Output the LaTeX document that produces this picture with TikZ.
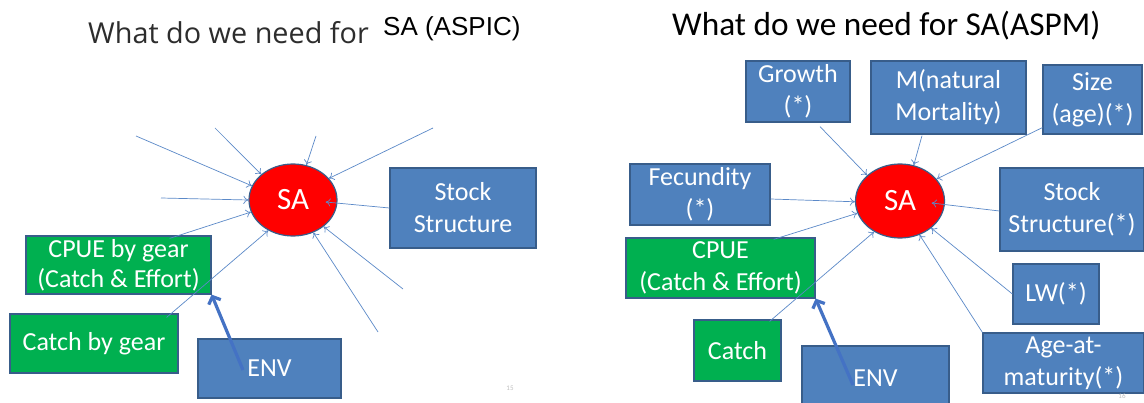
\documentclass[tikz,border=0pt]{standalone}
\usepackage{fontspec}
\setmainfont{Carlito}
\newfontfamily\arialfont{Liberation Sans}
\newfontfamily\segoefont{Open Sans}
\usepackage{tikz}
\usetikzlibrary{shapes.geometric,arrows.meta}
\definecolor{boxblue}{RGB}{79,129,189}
\definecolor{boxedge}{RGB}{56,93,138}
\definecolor{boxgreen}{RGB}{0,176,80}
\definecolor{linkblue}{RGB}{91,137,200}
\definecolor{envblue}{RGB}{68,114,196}
\definecolor{titlegrey}{RGB}{45,45,45}
\tikzset{%
    bluebox/.style={%
        draw=boxedge, line width=1.2pt, fill=boxblue, text=white,
        align=center, inner sep=0pt, font=\fontsize{26}{32}\selectfont
    },
    greenbox/.style={bluebox, fill=boxgreen},
    sanode/.style={%
        ellipse, draw=boxedge, line width=1.2pt, fill=red, text=white,
        inner sep=0pt, font=\fontsize{31}{36}\selectfont
    },
    link/.style={draw=linkblue, line width=0.7pt, -{To[length=5pt,width=8pt]}},
    biglink/.style={draw=envblue, line width=3.2pt, -{Straight Barb[length=6pt,width=13pt]}},
    pageno/.style={text=black!25, inner sep=0pt, font=\fontsize{7}{8}\selectfont}
}

\begin{document}
\begin{tikzpicture}[x=1pt,y=-1pt]
    \useasboundingbox[fill=white] (0,0) rectangle (1144,403);
    % left slide: ASPIC
    \node[font=\segoefont\fontsize{28.8}{31}\selectfont, text=titlegrey, anchor=west, inner sep=0pt] (lefttitle) at (88,33) {What do we need for};
    \node[font=\arialfont\fontsize{26}{30}\selectfont, anchor=west, inner sep=0pt] (lefttag) at (383,29) {SA (ASPIC)};
    \node[sanode, minimum width=88pt, minimum height=72pt] (sa) at (293,200) {SA};
    \node[bluebox, minimum width=146pt, minimum height=80pt] (stock) at (463,208) {Stock\\Structure};
    \node[greenbox, minimum width=185pt, minimum height=58pt, font=\fontsize{26}{30}\selectfont] (cpue) at (118.5,265) {CPUE by gear\\(Catch \& Effort)};
    \node[greenbox, minimum width=168pt, minimum height=59pt] (catchg) at (94,343.5) {Catch by gear};
    \node[bluebox, minimum width=143pt, minimum height=59pt] (env) at (269.5,368.5) {ENV};
    \node[pageno] (pageA) at (510,388) {15};
    \foreach \x/\y/\a in {136/136/161, 215/128/141, 316/136/69, 433/128/31, 161/198/180, 403/289/319, 378/332/302}
    {
    \coordinate (free\a) at (\x,\y);
    \draw[link] (free\a) -- (sa.\a);
    }
    \draw[link] ([shift={(-42pt,-3pt)}]cpue.north east) -- (sa.196);
    \draw[link] ([shift={(-12pt,-4pt)}]catchg.north east) -- (sa.231);
    \draw[link] (stock.west) -- ([shift={(-12pt,-2pt)}]sa.east);
    \draw[biglink] ([shift={(-26.5pt,-1.5pt)}]env.center) -- (cpue.south east);
    % right slide: ASPM
    \node[font=\fontsize{33.3}{36}\selectfont, anchor=west, inner sep=0pt] (righttitle) at (672,26) {What do we need for SA(ASPM)};
    \node[sanode, minimum width=89pt, minimum height=74pt] (sa2) at (900,201) {SA};
    \node[bluebox, minimum width=104pt, minimum height=61pt] (growth) at (798,91.5) {Growth\\(*)};
    \node[bluebox, minimum width=155pt, minimum height=73pt] (mort) at (948.5,97.5) {M(natural\\Mortality)};
    \node[bluebox, minimum width=99pt, minimum height=69pt] (size) at (1092.5,99.5) {Size\\(age)(*)};
    \node[bluebox, minimum width=140pt, minimum height=61pt] (fec) at (700,194.5) {Fecundity\\(*)};
    \node[bluebox, minimum width=144pt, minimum height=83pt] (stock2) at (1072,209.5) {Stock\\Structure(*)};
    \node[greenbox, minimum width=189pt, minimum height=60pt] (cpue2) at (720.5,268) {CPUE\\(Catch \& Effort)};
    \node[bluebox, minimum width=86pt, minimum height=60pt] (lw) at (1056,294) {LW(*)};
    \node[greenbox, minimum width=87pt, minimum height=61pt] (catch) at (737.5,350.5) {Catch};
    \node[bluebox, minimum width=147pt, minimum height=64pt] (env2) at (875.5,378) {ENV};
    \node[bluebox, minimum width=161pt, minimum height=60pt] (age) at (1063.5,363) {Age-at-\\maturity(*)};
    \node[pageno] (pageB) at (1122,396) {16};
    \draw[link] ([shift={(22pt,-4pt)}]growth.south) -- (sa2.142);
    \draw[link] ([shift={(-26.5pt,-1pt)}]mort.south) -- (sa2.69);
    \draw[link] ([yshift=7pt]size.south west) -- (sa2.31);
    \draw[link] ([yshift=-4.5pt]fec.east) -- (sa2.181);
    \draw[link] ([shift={(-42pt,-2pt)}]cpue2.north east) -- (sa2.196);
    \draw[link] ([shift={(-12pt,-2pt)}]catch.north east) -- (sa2.230);
    \draw[link] ([yshift=-1.5pt]stock2.west) -- ([shift={(-13.5pt,-2pt)}]sa2.east);
    \draw[link] (lw.west) -- (sa2.319);
    \draw[link] (age.north west) -- (sa2.300);
    \draw[biglink] ([shift={(-22.5pt,-7pt)}]env2.center) -- (cpue2.south east);
\end{tikzpicture}
\end{document}
